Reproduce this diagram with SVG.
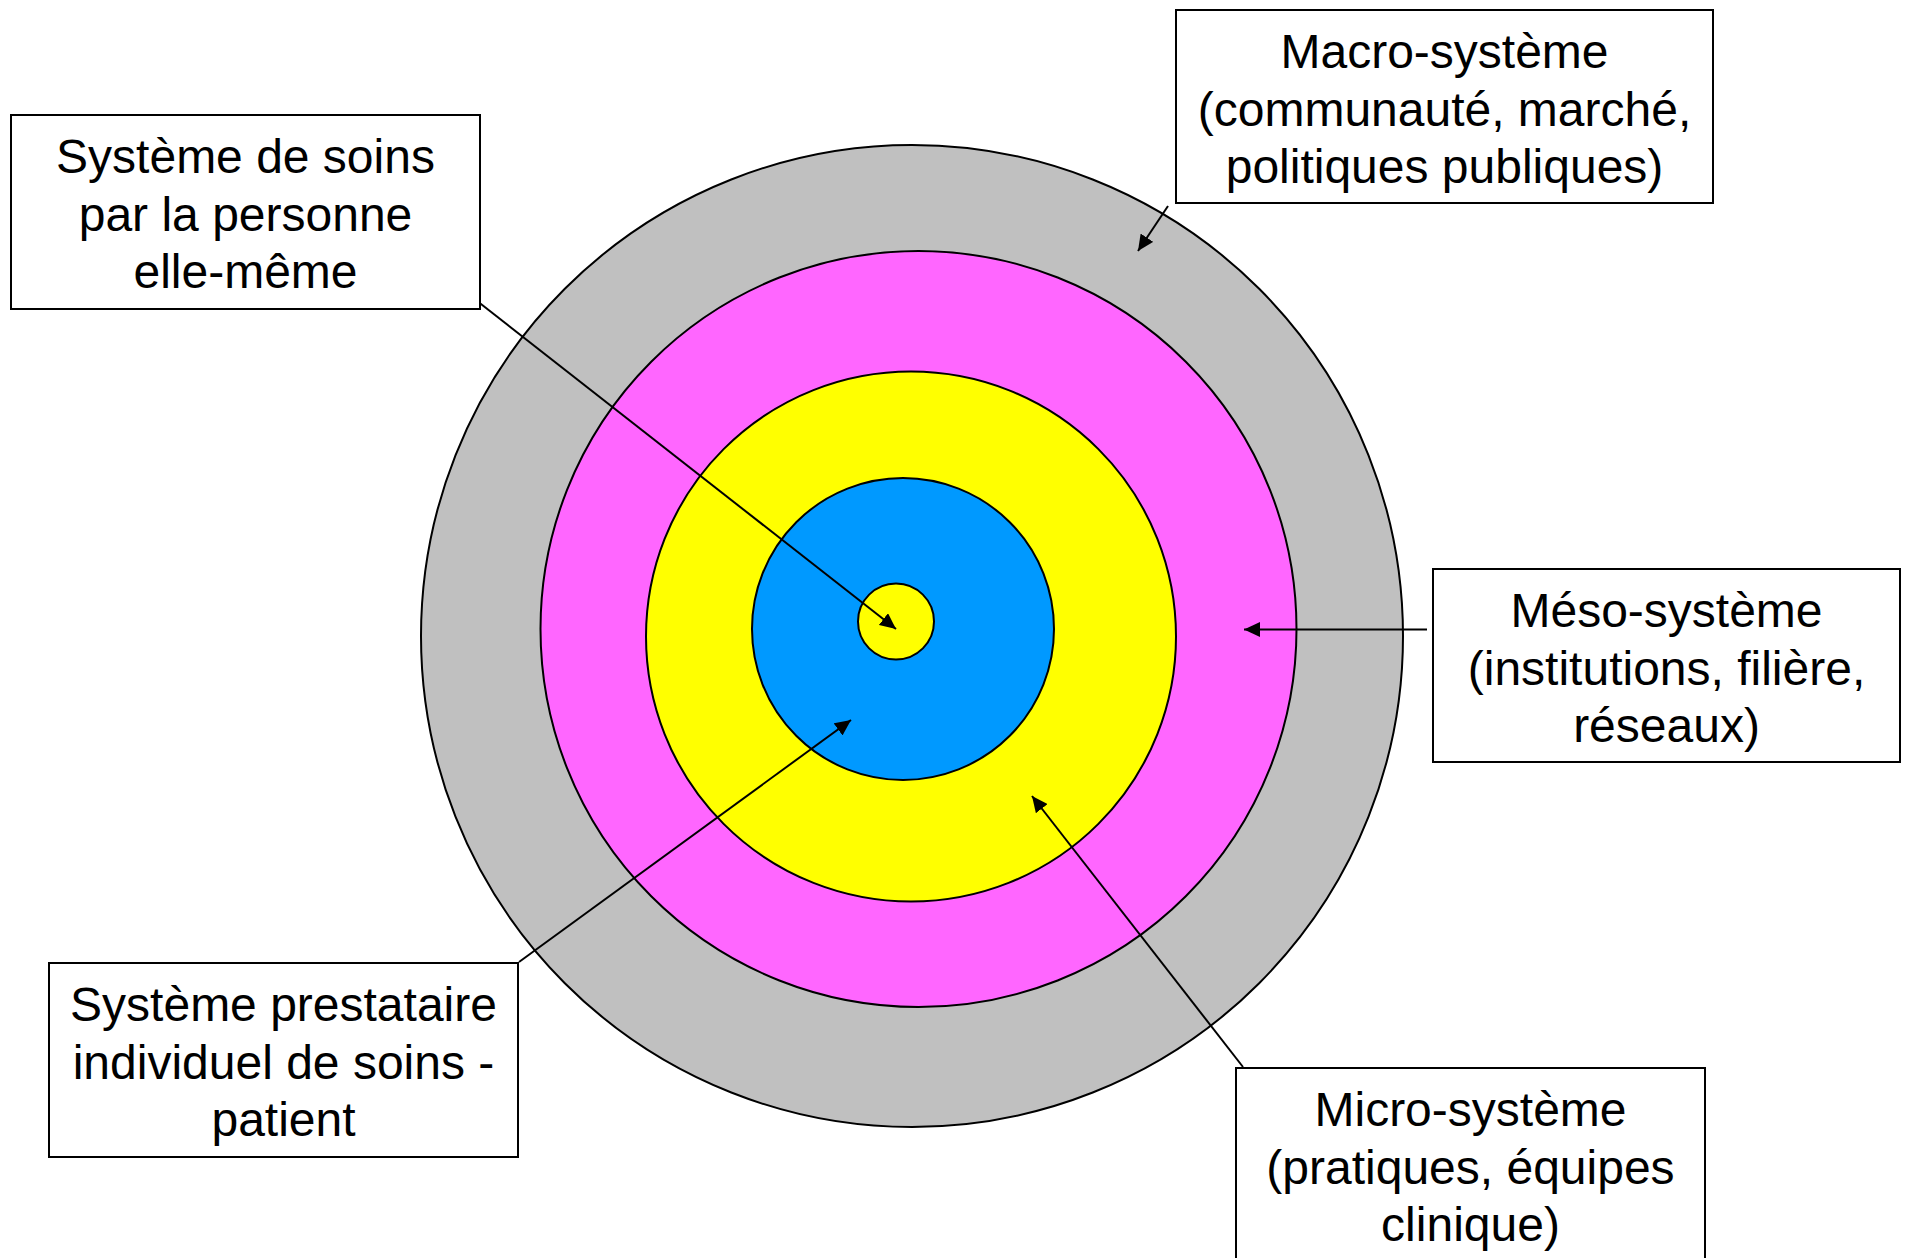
<svg xmlns="http://www.w3.org/2000/svg" width="1905" height="1258" viewBox="0 0 1905 1258">
<style>
.ring{stroke:#000;stroke-width:2}
.box{fill:#fff;stroke:#000;stroke-width:2}
.lbl{font-family:"Liberation Sans",Arial,sans-serif;font-size:48px;fill:#000;text-anchor:middle}
.con{stroke:#000;stroke-width:2;fill:none;marker-end:url(#ah)}
</style>
<defs>
<marker id="ah" markerUnits="userSpaceOnUse" markerWidth="16" markerHeight="15" refX="16" refY="7.5" orient="auto">
<path d="M0,0 L16,7.5 L0,15 z" fill="#000"/>
</marker>
</defs>
<rect width="1905" height="1258" fill="#fff"/>
<g id="rings">
<circle class="ring" cx="912" cy="636" r="491" fill="#C0C0C0"/>
<circle class="ring" cx="918.5" cy="629" r="378" fill="#FF66FF"/>
<circle class="ring" cx="911" cy="636.5" r="265" fill="#FFFF00"/>
<circle class="ring" cx="903" cy="629" r="151" fill="#0099FF"/>
<circle class="ring" cx="896" cy="621.5" r="38" fill="#FFFF00"/>
</g>
<g id="connectors">
<line class="con" x1="472" y1="297" x2="896" y2="629"/>
<line class="con" x1="1168" y1="206" x2="1138" y2="251"/>
<line class="con" x1="1427" y1="629.5" x2="1244" y2="629.5"/>
<line class="con" x1="1243" y1="1067" x2="1032" y2="796"/>
<line class="con" x1="519" y1="962" x2="851" y2="720"/>
</g>
<g id="node-soins-personne">
<rect class="box" x="11" y="115" width="469" height="194"/>
<text class="lbl" x="245.5" y="172.5">Système de soins</text>
<text class="lbl" x="245.5" y="230.5">par la personne</text>
<text class="lbl" x="245.5" y="287.5">elle-même</text>
</g>
<g id="node-macro">
<rect class="box" x="1176" y="10" width="537" height="193"/>
<text class="lbl" x="1444.5" y="67.5">Macro-système</text>
<text class="lbl" x="1444.5" y="125.5">(communauté, marché,</text>
<text class="lbl" x="1444.5" y="182.5">politiques publiques)</text>
</g>
<g id="node-meso">
<rect class="box" x="1433" y="569" width="467" height="193"/>
<text class="lbl" x="1666.5" y="626.5">Méso-système</text>
<text class="lbl" x="1666.5" y="684.5">(institutions, filière,</text>
<text class="lbl" x="1666.5" y="741.5">réseaux)</text>
</g>
<g id="node-micro">
<rect class="box" x="1236" y="1068" width="469" height="200"/>
<text class="lbl" x="1470.5" y="1125.5">Micro-système</text>
<text class="lbl" x="1470.5" y="1183.5">(pratiques, équipes</text>
<text class="lbl" x="1470.5" y="1241">clinique)</text>
</g>
<g id="node-prestataire">
<rect class="box" x="49" y="963" width="469" height="194"/>
<text class="lbl" x="283.5" y="1020.5">Système prestataire</text>
<text class="lbl" x="283.5" y="1078.5">individuel de soins -</text>
<text class="lbl" x="283.5" y="1135.5">patient</text>
</g>
</svg>
